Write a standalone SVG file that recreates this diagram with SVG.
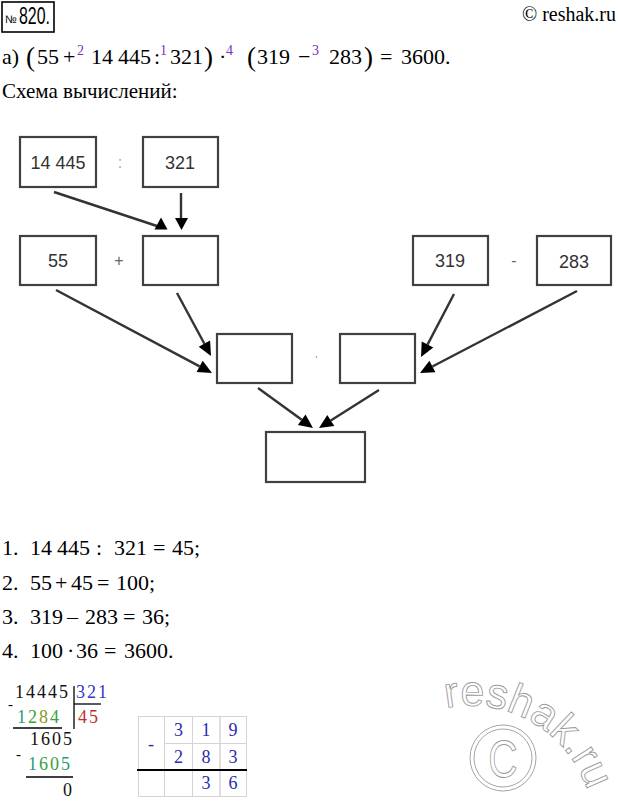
<svg xmlns="http://www.w3.org/2000/svg" width="618" height="803" viewBox="0 0 618 803">
<style>
.m{font-family:"Liberation Serif","Times New Roman",serif;font-size:21px;fill:#000}
.e{font-family:"Liberation Serif","Times New Roman",serif;font-size:22px;fill:#000}
.s{font-family:"Liberation Serif","Times New Roman",serif;font-size:22px;fill:#000}
.sup{font-family:"Liberation Serif","Times New Roman",serif;font-size:14px;fill:#7b2fbe}
.par{font-family:"Liberation Serif","Times New Roman",serif;font-size:27px;fill:#000}
.box{fill:#fff;stroke:#404040;stroke-width:2.2}
.bt{font-family:"Liberation Sans",Arial,sans-serif;font-size:18px;fill:#333;text-anchor:middle}
.op{font-family:"Liberation Sans",Arial,sans-serif;font-size:16px;fill:#666;text-anchor:middle}
.ln{stroke:#333;stroke-width:2.4;fill:none}
.ah{fill:#000}
.d{font-family:"Liberation Serif","Times New Roman",serif;font-size:18px;letter-spacing:2px}
.cell{fill:none;stroke:#d4d4d4;stroke-width:1}
.tb{font-family:"Liberation Serif","Times New Roman",serif;font-size:18px;fill:#2b2bb0;text-anchor:middle}
.wm{font-family:"Liberation Sans",Arial,sans-serif;fill:#fff;stroke:#9a9a9a;stroke-width:0.9}
</style>
<defs>
<path id="arc" d="M446,708 A124,124 0 0 1 592.1,808.5"/>
</defs>

<!-- watermark -->
<g id="watermark">
<text class="wm" font-size="43"><textPath href="#arc">reshak.ru</textPath></text>
<circle cx="503" cy="758" r="33" fill="none" stroke="#9a9a9a" stroke-width="0.9"/>
<circle cx="503" cy="758" r="29" fill="none" stroke="#9a9a9a" stroke-width="0.9"/>
<text class="wm" x="503" y="777" font-size="52" text-anchor="middle" transform="translate(503 0) scale(0.78 1) translate(-503 0)">C</text>
</g>

<!-- header -->
<g id="header">
<rect x="2" y="2" width="52" height="30" fill="none" stroke="#000" stroke-width="1.6"/>
<text x="5" y="23" font-family="Liberation Sans Narrow,Liberation Sans,Arial,sans-serif" font-size="11">№</text>
<text x="19" y="24" font-family="Liberation Sans Narrow,Liberation Sans,Arial,sans-serif" font-size="24" textLength="31" lengthAdjust="spacingAndGlyphs">820.</text>
<text class="m" x="616" y="21" style="font-size:20px" text-anchor="end">© reshak.ru</text>
</g>

<!-- expression -->
<g id="expression">
<text class="e" x="2" y="64">а)</text>
<text class="par" x="26" y="66">(</text>
<text class="e" x="37" y="64">55</text>
<text class="e" x="63" y="64">+</text>
<text class="sup" x="77" y="55">2</text>
<text class="e" x="91" y="64">14</text>
<text class="e" x="118" y="64">445</text>
<text class="e" x="154" y="64">:</text>
<text class="sup" x="160" y="55">1</text>
<text class="e" x="170" y="64">321</text>
<text class="par" x="204" y="66">)</text>
<text class="e" x="219" y="64">·</text>
<text class="sup" x="226" y="55">4</text>
<text class="par" x="247" y="66">(</text>
<text class="e" x="257" y="64">319</text>
<text class="e" x="298" y="64">−</text>
<text class="sup" x="312" y="55">3</text>
<text class="e" x="329" y="64">283</text>
<text class="par" x="364" y="66">)</text>
<text class="e" x="380" y="64">=</text>
<text class="e" x="401" y="64">3600.</text>
<text class="m" x="2" y="98">Схема вычислений:</text>
</g>

<!-- nodes -->
<g id="n14445"><rect class="box" x="20" y="137" width="76" height="50"/><text class="bt" x="58" y="169">14 445</text></g>
<g id="op-div"><text class="op" x="120" y="168" style="fill:#aaa">:</text></g>
<g id="n321"><rect class="box" x="143" y="137" width="75" height="50"/><text class="bt" x="180" y="169">321</text></g>
<g id="n55"><rect class="box" x="20" y="236" width="76" height="49"/><text class="bt" x="58" y="267">55</text></g>
<g id="op-plus"><text class="op" x="119" y="266">+</text></g>
<g id="nq"><rect class="box" x="143" y="236" width="75" height="49"/></g>
<g id="n319"><rect class="box" x="413" y="236" width="75" height="49"/><text class="bt" x="450" y="267">319</text></g>
<g id="op-minus"><text class="op" x="514" y="266">-</text></g>
<g id="n283"><rect class="box" x="537" y="236" width="74" height="49"/><text class="bt" x="574" y="268">283</text></g>
<g id="nsum"><rect class="box" x="217" y="334" width="75" height="49"/></g>
<g id="op-mul"><circle cx="316.5" cy="357" r="0.8" fill="#888"/></g>
<g id="ndiff"><rect class="box" x="340" y="334" width="75" height="49"/></g>
<g id="nres"><rect class="box" x="266" y="432" width="99" height="50"/></g>

<!-- connectors -->
<g id="connectors">
<line class="ln" x1="54" y1="192" x2="157" y2="226"/>
<polygon class="ah" points="161,217.5 154.5,229.5 167.5,229.5"/>
<line class="ln" x1="181" y1="193" x2="181" y2="219"/>
<polygon class="ah" points="175,218 188,218 181.5,230"/>
<line class="ln" x1="177" y1="293" x2="204.4" y2="343.7"/>
<polygon class="ah" points="211,356 198.7,346.8 210.1,340.6"/>
<line class="ln" x1="56" y1="290" x2="199.6" y2="366.4"/>
<polygon class="ah" points="212,373 196.6,372.1 202.7,360.7"/>
<line class="ln" x1="454" y1="294" x2="427.5" y2="344.6"/>
<polygon class="ah" points="421,357 421.7,341.6 433.3,347.6"/>
<line class="ln" x1="577" y1="291" x2="432.4" y2="366.5"/>
<polygon class="ah" points="420,373 429.4,360.7 435.4,372.3"/>
<line class="ln" x1="258" y1="388" x2="301.7" y2="419.8"/>
<polygon class="ah" points="313,428 297.9,425.1 305.5,414.5"/>
<line class="ln" x1="379" y1="390" x2="330.8" y2="420.5"/>
<polygon class="ah" points="319,428 327.3,415 334.3,426"/>
</g>

<!-- steps -->
<g id="steps">
<text class="s" y="555"><tspan x="2">1.</tspan><tspan x="30">14</tspan><tspan x="57">445</tspan><tspan x="96">:</tspan><tspan x="114">321</tspan><tspan x="153">=</tspan><tspan x="172">45;</tspan></text>
<text class="s" y="590"><tspan x="2">2.</tspan><tspan x="30">55</tspan><tspan x="55">+</tspan><tspan x="71">45</tspan><tspan x="97">=</tspan><tspan x="116">100;</tspan></text>
<text class="s" y="624"><tspan x="2">3.</tspan><tspan x="30">319</tspan><tspan x="67">–</tspan><tspan x="85">283</tspan><tspan x="123">=</tspan><tspan x="142">36;</tspan></text>
<text class="s" y="658"><tspan x="2">4.</tspan><tspan x="30">100</tspan><tspan x="67">·</tspan><tspan x="76">36</tspan><tspan x="104">=</tspan><tspan x="124">3600.</tspan></text>
</g>

<!-- long division -->
<g id="division">
<text class="d" x="15" y="698" fill="#111">14445</text>
<text class="d" x="76" y="698" fill="#3535c8">321</text>
<line x1="74" y1="686" x2="74" y2="729" stroke="#000" stroke-width="1.3"/>
<line x1="74" y1="704" x2="101" y2="704" stroke="#000" stroke-width="1.3"/>
<text x="8" y="709" font-family="Liberation Serif,serif" font-size="15">-</text>
<text class="d" x="17" y="723"><tspan fill="#2a9a7a">1</tspan><tspan fill="#3aa040">2</tspan><tspan fill="#8a9a20">8</tspan><tspan fill="#3aa040">4</tspan></text>
<text class="d" x="78" y="723" fill="#c03030">45</text>
<line x1="13" y1="728" x2="62" y2="728" stroke="#000" stroke-width="1.3"/>
<text class="d" x="30" y="745" fill="#111">1605</text>
<text x="16" y="759" font-family="Liberation Serif,serif" font-size="15">-</text>
<text class="d" x="28" y="770"><tspan fill="#2a9a7a">1</tspan><tspan fill="#3aa040">6</tspan><tspan fill="#3aa040">0</tspan><tspan fill="#2a9a7a">5</tspan></text>
<line x1="26" y1="777" x2="73" y2="777" stroke="#000" stroke-width="1.3"/>
<text class="d" x="63" y="796" fill="#111">0</text>
</g>

<!-- subtraction table -->
<g id="table">
<rect class="cell" x="138.5" y="716.5" width="26" height="53.5"/>
<rect class="cell" x="164.5" y="716.5" width="28" height="27"/>
<rect class="cell" x="192.5" y="716.5" width="27.5" height="27"/>
<rect class="cell" x="220" y="716.5" width="26.5" height="27"/>
<rect class="cell" x="164.5" y="743.5" width="28" height="26.5"/>
<rect class="cell" x="192.5" y="743.5" width="27.5" height="26.5"/>
<rect class="cell" x="220" y="743.5" width="26.5" height="26.5"/>
<rect class="cell" x="138.5" y="770" width="26" height="26.5"/>
<rect class="cell" x="164.5" y="770" width="28" height="26.5"/>
<rect class="cell" x="192.5" y="770" width="27.5" height="26.5"/>
<rect class="cell" x="220" y="770" width="26.5" height="26.5"/>
<line x1="137" y1="770" x2="247" y2="770" stroke="#000" stroke-width="2"/>
<text class="tb" x="151" y="750">-</text>
<text class="tb" x="178.5" y="736">3</text>
<text class="tb" x="206" y="736">1</text>
<text class="tb" x="233" y="736">9</text>
<text class="tb" x="178.5" y="763">2</text>
<text class="tb" x="206" y="763">8</text>
<text class="tb" x="233" y="763">3</text>
<text class="tb" x="206" y="789">3</text>
<text class="tb" x="233" y="789">6</text>
</g>
</svg>
